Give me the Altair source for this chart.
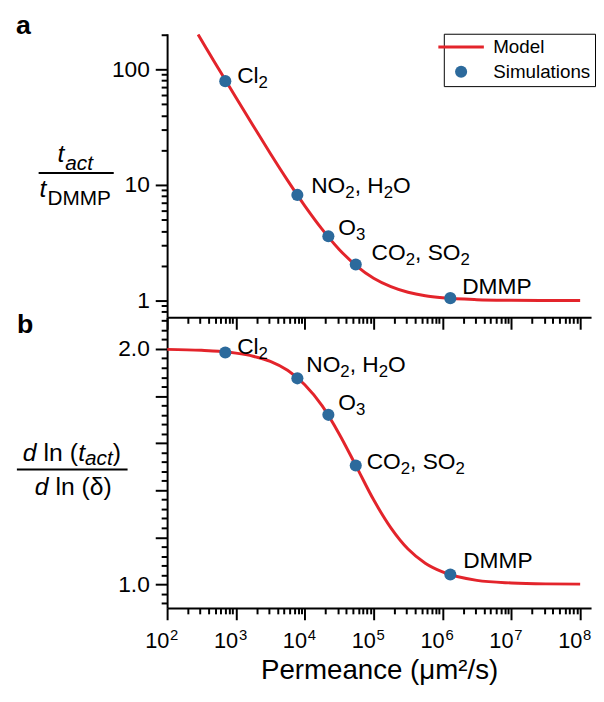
import altair as alt
import pandas as pd

# ---------------- data ----------------
top_curve_perm = [2.82e2, 3.16e2, 5.62e2, 1.0e3, 1.78e3, 3.16e3, 5.62e3, 1.0e4, 1.78e4, 3.16e4,
                  5.62e4, 1.0e5, 1.78e5, 3.16e5, 5.62e5, 1.0e6, 3.16e6, 1.0e7, 3.16e7, 1.0e8]
top_curve_ratio = [200, 178, 100.5, 57, 32.5, 18.7, 10.95, 6.6, 4.15, 2.77,
                   2.0, 1.56, 1.32, 1.18, 1.10, 1.056, 1.018, 1.006, 1.002, 1.0006]

bot_curve_perm = [1.0e2, 3.16e2, 5.62e2, 1.0e3, 1.78e3, 3.16e3, 5.62e3, 1.0e4, 1.78e4, 3.16e4,
                  5.62e4, 1.0e5, 1.78e5, 3.16e5, 5.62e5, 1.0e6, 3.16e6, 1.0e7, 3.16e7, 1.0e8]
bot_curve_slope = [1.998, 1.994, 1.990, 1.982, 1.969, 1.947, 1.909, 1.848, 1.759, 1.639,
                   1.500, 1.359, 1.240, 1.150, 1.090, 1.053, 1.017, 1.006, 1.002, 1.001]

sim_labels = ["Cl₂", "NO₂, H₂O", "O₃", "CO₂, SO₂", "DMMP"]
sim_perm = [7.0e2, 7.8e3, 2.2e4, 5.5e4, 1.3e6]
sim_ratio = [79, 8.2, 3.6, 2.05, 1.05]
sim_slope = [1.985, 1.875, 1.72, 1.505, 1.042]

legend_entries = ["Model", "Simulations"]

x_major_perm = [1e2, 1e3, 1e4, 1e5, 1e6, 1e7, 1e8]
x_major_exp = ["2", "3", "4", "5", "6", "7", "8"]
x_tick_values = [m * 10 ** e for e in range(2, 9) for m in range(1, 10) if m * 10 ** e <= 1.44e8]
top_y_tick_values = [0.8, 0.9] + [m * 10 ** e for e in range(0, 3) for m in range(1, 10) if m * 10 ** e <= 200]
bot_y_tick_values = [round(0.92 + 0.04 * i, 2) for i in range(31)]

# ---------------- styling ----------------
W, H1, H2 = 429, 287, 294
RED = "#e3242b"
BLUE = "#2c6a9c"
FONT = "Liberation Sans"
LINE_PATH = "M-3.76,-0.25L3.76,-0.25L3.76,0.25L-3.76,0.25Z"
LAB_SIZE, SUB_SIZE = 23, 17
# per-label text offsets (start dx, centre dy) for panel a and b
OFF_A = [(12, -6), (14, -10), (10, -9), (16, -13), (12, -12)]
OFF_B = [(12, -6), (9, -14), (10, -13), (11, -4), (13, -15)]
ADV = {"C": 722, "l": 222, "N": 722, "O": 778, "H": 722, "S": 667, "D": 722, "M": 833,
       "P": 667, ",": 278, " ": 278, "2": 556, "3": 556}
SUBS = {"₂": "2", "₃": "3"}

top_curve = pd.DataFrame({"perm": top_curve_perm, "val": top_curve_ratio})
bot_curve = pd.DataFrame({"perm": bot_curve_perm, "val": bot_curve_slope})
sim = pd.DataFrame({"perm": sim_perm, "ratio": sim_ratio, "slope": sim_slope,
                    "label": sim_labels, "series": "Simulations"})
xmaj = pd.DataFrame({"perm": x_major_perm, "exp": x_major_exp})
dummy = pd.DataFrame({"k": [0]})

xscale = alt.Scale(type="log", domain=[100, 1.44e8], nice=False)
yscale_top = alt.Scale(type="log", domain=[0.716, 203], nice=False)
yscale_bot = alt.Scale(domain=[0.9, 2.134], nice=False, zero=False)

MAJOR_X = "abs(log(datum.value)/LN10 - round(log(datum.value)/LN10)) < 0.001"
MAJOR_YT = "datum.value == 1 || datum.value == 10 || datum.value == 100"
MAJOR_YB = "abs(datum.value*5 - round(datum.value*5)) < 0.001"
LABEL_YB = "abs(datum.value - round(datum.value)) < 0.001"

common_axis = dict(grid=False, tickWidth=2, tickColor="black", domainColor="black", domainWidth=2,
                   labelFont=FONT, labelFontSize=23, labelColor="black")

x_top_axis = alt.Axis(values=x_tick_values, labels=False, orient="bottom", title=None,
                      tickSize={"condition": {"test": MAJOR_X, "value": 12}, "value": 6}, **common_axis)
x_bot_axis = alt.Axis(values=x_tick_values, labels=False, orient="bottom",
                      tickSize={"condition": {"test": MAJOR_X, "value": 12}, "value": 6},
                      title="Permeance (μm²/s)", titleFont=FONT, titleFontSize=28,
                      titleFontWeight="normal", titleColor="black", titlePadding=36, **common_axis)
y_top_axis = alt.Axis(values=top_y_tick_values, labelExpr="(" + MAJOR_YT + ") ? format(datum.value, 'd') : ''",
                      tickSize={"condition": {"test": MAJOR_YT, "value": 12}, "value": 6}, title=None,
                      labelPadding=6, labelOverlap=False, labelFlush=False, **common_axis)
y_bot_axis = alt.Axis(values=bot_y_tick_values, labelExpr="(" + LABEL_YB + ") ? format(datum.value, '.1f') : ''",
                      tickSize={"condition": {"test": MAJOR_YB, "value": 12}, "value": 6}, title=None,
                      labelPadding=6, labelOverlap=False, labelFlush=False, **common_axis)

legend = alt.Legend(title=None, orient="none", legendX=280, legendY=0, strokeColor="black",
                    fillColor="white", padding=4, symbolSize=150, symbolOffset=4, labelOffset=23,
                    labelFont=FONT, labelFontSize=19, labelColor="black", rowPadding=5,
                    symbolStrokeWidth=0)
color_scale = alt.Scale(domain=legend_entries, range=[RED, BLUE])
shape_scale = alt.Scale(domain=legend_entries, range=[LINE_PATH, "circle"])


def txt(s, x, y, size, style="normal", weight="normal"):
    return alt.Chart(dummy).mark_text(text=s, align="left", baseline="alphabetic", font=FONT,
                                      fontSize=size, fontStyle=style, fontWeight=weight,
                                      color="black").encode(x=alt.value(x), y=alt.value(y))


def bar(x1, x2, y):
    return alt.Chart(dummy).mark_rule(color="black", strokeWidth=2).encode(
        x=alt.value(x1), x2=alt.value(x2), y=alt.value(y))


def split_label(label):
    """split a label into runs of normal text and subscript digits"""
    runs = []
    for ch in label:
        sub = ch in SUBS
        c = SUBS.get(ch, ch)
        if runs and runs[-1][1] == sub:
            runs[-1][0] += c
        else:
            runs.append([c, sub])
    return runs


def label_layers(x_enc, y_enc, offsets):
    layers = []
    for lab, (dx0, dyc) in zip(sim_labels, offsets):
        cx = dx0
        base = dyc + round(0.36 * LAB_SIZE)
        for piece, sub in split_label(lab):
            size = SUB_SIZE if sub else LAB_SIZE
            layers.append(
                alt.Chart(sim).transform_filter(alt.datum.label == lab)
                .mark_text(text=piece, align="left", baseline="alphabetic", font=FONT, fontSize=size,
                           color="black", dx=cx, dy=base + (5 if sub else 0))
                .encode(x=x_enc, y=y_enc)
            )
            cx += sum(ADV.get(c, 556) for c in piece) / 1000 * size
    return layers


# ---------------- panel a ----------------
xt = alt.X("perm:Q", scale=xscale, axis=x_top_axis)
yt = alt.Y("ratio:Q", scale=yscale_top, axis=y_top_axis)
line_a = alt.Chart(top_curve).mark_line(color=RED, strokeWidth=3, interpolate="monotone", clip=True).encode(
    x=xt, y=alt.Y("val:Q", scale=yscale_top, axis=y_top_axis))
pts_a = alt.Chart(sim).mark_point(filled=True, opacity=1, size=150).encode(
    x=xt, y=yt,
    color=alt.Color("series:N", scale=color_scale, legend=legend),
    shape=alt.Shape("series:N", scale=shape_scale, legend=legend))

panel_a = alt.layer(
    line_a, pts_a, *label_layers(xt, yt, OFF_A),
    txt("a", -153, 0, 27, weight="bold"),
    txt("t", -111, 130, 25, style="italic"),
    txt("act", -103, 138, 21, style="italic"),
    bar(-130, -54, 141),
    txt("t", -129, 165, 25, style="italic"),
    txt("DMMP", -121, 173, 21),
).properties(width=W, height=H1)

# ---------------- panel b ----------------
xb = alt.X("perm:Q", scale=xscale, axis=x_bot_axis)
yb = alt.Y("slope:Q", scale=yscale_bot, axis=y_bot_axis)
line_b = alt.Chart(bot_curve).mark_line(color=RED, strokeWidth=3, interpolate="monotone", clip=True).encode(
    x=xb, y=alt.Y("val:Q", scale=yscale_bot, axis=y_bot_axis))
pts_b = alt.Chart(sim).mark_point(filled=True, opacity=1, size=150, color=BLUE).encode(x=xb, y=yb)
xlab_ten = alt.Chart(xmaj).mark_text(text="10", align="center", baseline="alphabetic", font=FONT,
                                     fontSize=22, color="black", dx=-10).encode(x=xb, y=alt.value(H2 + 41))
xlab_exp = alt.Chart(xmaj).mark_text(align="left", baseline="alphabetic", font=FONT,
                                     fontSize=15, color="black", dx=3).encode(
    x=xb, y=alt.value(H2 + 32), text="exp:N")

panel_b = alt.layer(
    line_b, pts_b, *label_layers(xb, yb, OFF_B), xlab_ten, xlab_exp,
    txt("b", -152, 16, 27, weight="bold"),
    txt("d", -146, 145, 25, style="italic"),
    txt("ln (", -125, 145, 25),
    txt("t", -90, 145, 25, style="italic"),
    txt("act", -83, 149, 21, style="italic"),
    txt(")", -55, 145, 25),
    bar(-152, -40, 154),
    txt("d", -134, 180, 25, style="italic"),
    txt("ln (δ)", -113, 180, 25),
).properties(width=W, height=H2)

chart = alt.vconcat(panel_a, panel_b, spacing=0, bounds="flush").properties(
    padding={"left": 8, "top": 0, "right": 0, "bottom": 0}
).configure_view(stroke=None)

chart.save("out.html", embed_options={"renderer": "svg", "actions": False})
